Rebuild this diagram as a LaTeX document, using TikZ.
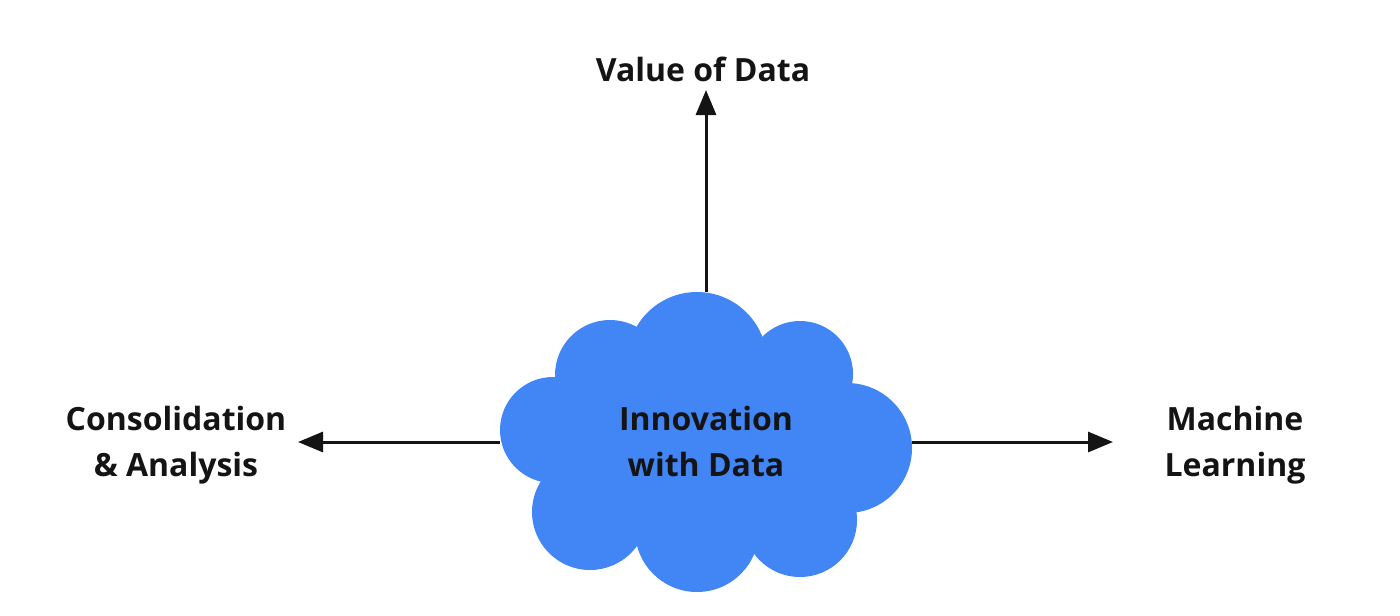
\documentclass[tikz,border=0pt]{standalone}
\usepackage{fontspec}
\setmainfont{Open Sans}
\usetikzlibrary{arrows.meta}
\definecolor{cloudblue}{HTML}{4285F4}
\definecolor{ink}{HTML}{141414}
\begin{document}
\begin{tikzpicture}[x=0.5pt,y=-0.5pt,
  lbl/.style={font=\bfseries\fontsize{16}{23}\selectfont, text=ink, align=center, inner sep=0pt},
  arr/.style={draw=ink, line width=1.5pt, -{Triangle[length=12.5pt,width=10pt]}},
  blob/.style={fill=cloudblue, draw=none}]
\useasboundingbox (0,0) rectangle (1400,615);
% cloud body
\fill[blob] (697,362) circle (70);
\fill[blob] (610,375) circle (55);
\fill[blob] (800,374) circle (53);
\fill[blob] (553,430) circle (53);
\fill[blob] (847,448) circle (65);
\fill[blob] (590,512) circle (58);
\fill[blob] (697,530) circle (62);
\fill[blob] (800,520) circle (57);
\fill[blob] (560,370) rectangle (850,520);
\node[minimum width=206pt, minimum height=150pt, inner sep=0pt] (cloud) at (706,442) {};
\node[lbl] (inno) at (706,441) {Innovation\\with Data};
% labels
\node[lbl] (value) at (703,69) {Value of Data};
\node[lbl] (cons) at (176,445) {Consolidation\\\& Analysis};
\node[lbl] (ml) at (1235,445) {Machine\\Learning};
\coordinate (tipU) at (706,90);
\coordinate (tipL) at (298,442);
\coordinate (tipR) at (1113,442);
\draw[arr] (cloud.north) -- (tipU);
\draw[arr] (cloud.west) -- (tipL);
\draw[arr] (cloud.east) -- (tipR);
\end{tikzpicture}
\end{document}
